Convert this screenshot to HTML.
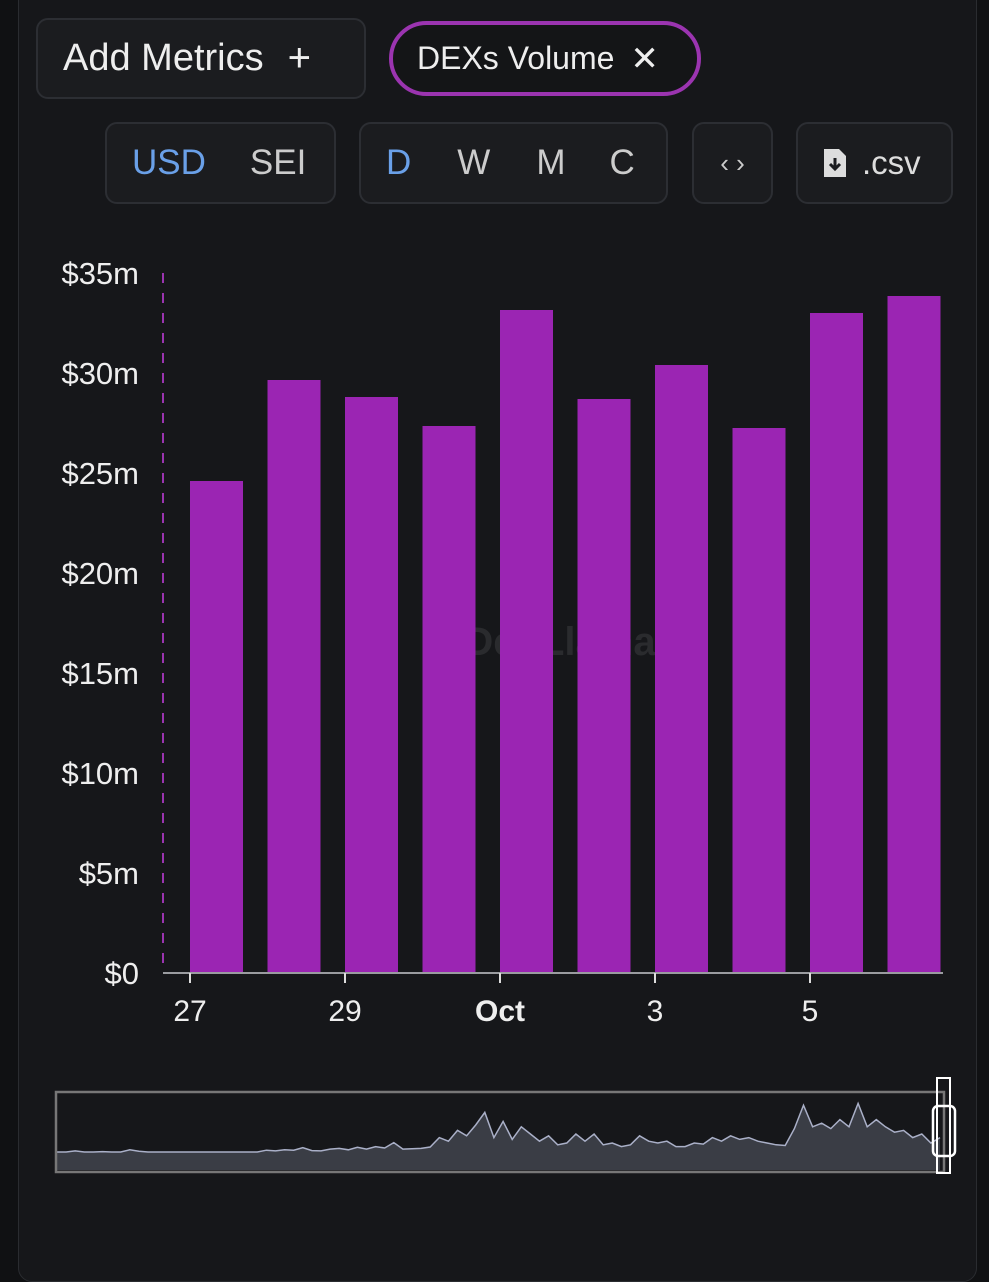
<!DOCTYPE html>
<html><head><meta charset="utf-8"><style>
body{margin:0;background:#101113;width:989px;height:1200px;overflow:hidden;font-family:"Liberation Sans",sans-serif;}
.panel{position:absolute;left:18px;top:-20px;width:957px;height:1300px;background:#16171a;border:1px solid #2a2c30;border-radius:14px;}
.btn{position:absolute;border:2px solid #2c2e33;border-radius:12px;background:#1b1c1f;color:#eee;box-sizing:border-box;display:flex;align-items:center;}
</style></head><body>
<div class="panel"></div>
<div class="btn" style="left:36px;top:18px;width:330px;height:81px;font-size:38px;padding-left:25px;">Add Metrics<span style="margin-left:24px;font-size:40px">+</span></div>
<div class="btn" style="left:389px;top:21px;width:312px;height:75px;border:4px solid #9b34b0;border-radius:38px;background:#141517;font-size:32px;padding-left:24px;">DEXs Volume<span style="margin-left:16px;font-size:34px">✕</span></div>
<div class="btn" style="left:105px;top:122px;width:231px;height:82px;font-size:35px;">
<span style="margin-left:25px;color:#6aa0e8">USD</span><span style="margin-left:44px;color:#ccc">SEI</span></div>
<div class="btn" style="left:359px;top:122px;width:309px;height:82px;font-size:35px;color:#ccc;">
<span style="margin-left:25px;color:#6aa0e8">D</span><span style="margin-left:46px">W</span><span style="margin-left:46px">M</span><span style="margin-left:44px">C</span></div>
<div class="btn" style="left:692px;top:122px;width:81px;height:82px;justify-content:center;font-size:26px;color:#ccc;">‹ ›</div>
<div class="btn" style="left:796px;top:122px;width:157px;height:82px;font-size:33px;color:#ddd;padding-left:24px;">
<svg width="26" height="32" viewBox="0 0 26 32"><path d="M2 2h15l7 7v21H2z" fill="#ddd"/><path d="M13 11v11M8 17l5 5 5-5" stroke="#1b1c1f" stroke-width="3" fill="none"/></svg><span style="margin-left:14px">.csv</span></div>
<svg id="chart" width="989" height="1200" style="position:absolute;left:0;top:0"></svg>
<script>
const categories=["27","28","29","30","Oct","2","3","4","5","6"];
const volumes=[24.6,29.65,28.8,27.35,33.15,28.7,30.4,27.25,33.0,33.85];
const yTicks=[0,5,10,15,20,25,30,35];
const xTickLabels=["27","29","Oct","3","5"];
const xTickIdx=[0,2,4,6,8];
const overview=[5,5,5.3,5,5,5.1,5,5,5.6,5.2,5,5,5,5,5,5,5,5,5,5,5,5,5,5.5,5.3,5.6,5.5,6.2,5.4,5.3,5.8,6,5.6,6.3,5.8,6.5,6.1,7.6,5.8,5.9,6,6.4,9,8,11,9.5,12.5,16,9,13.5,8.5,12,10,8,9.5,7,7.5,10,8,10,7,7.5,6.5,7,9.5,8,7.5,8,6.5,6.5,7.5,7.2,9,8,9.5,8.5,9,8,7.5,7,6.8,11.5,18,12,13,11.5,14,12,18.5,12,14,12,10.5,11,9,10,7.5,9];
const ns="http://www.w3.org/2000/svg";
const svg=document.getElementById('chart');
const y0=973,pxPer=20,x0=190,step=77.5,bw=53;
function yS(v){return y0-v*pxPer;}
function xS(i){return x0+i*step;}
function mk(t,a){const e=document.createElementNS(ns,t);for(const k in a)e.setAttribute(k,a[k]);svg.appendChild(e);return e;}
let w=mk('text',{x:560,y:655,'font-size':40,'font-weight':'bold',fill:'#2a2b2e','text-anchor':'middle','font-family':'Liberation Sans'});


w.textContent='DefiLlama';
yTicks.forEach(v=>{
 const t=mk('text',{x:139,y:yS(v)+11,'font-size':31,fill:'#eee','text-anchor':'end','font-family':'Liberation Sans'});
 
 
 t.textContent='$'+v+(v?'m':'');
});
let dl=mk('line',{x1:163,x2:163,y1:yS(35),y2:y0,stroke:'#9b34b0','stroke-width':2,'stroke-dasharray':'10 10'});


volumes.forEach((v,i)=>{
 const r=mk('rect',{x:xS(i),y:yS(v),width:bw,height:v*pxPer,fill:'#9b25b3'});
 
 
});
let ax=mk('line',{x1:163,x2:943,y1:y0,y2:y0,stroke:'#9a9ca0','stroke-width':2});


xTickIdx.forEach((ci,k)=>{
 const l=mk('line',{x1:xS(ci),x2:xS(ci),y1:y0,y2:y0+10,stroke:'#ddd','stroke-width':2});
 
 
 const t=mk('text',{x:xS(ci),y:1021,'font-size':30,fill:'#eee','text-anchor':'middle','font-family':'Liberation Sans','font-weight':xTickLabels[k]=='Oct'?'bold':'normal'});
 
 
 t.textContent=xTickLabels[k];
});
const ox0=57,ox1=940,oyB=1170,oPer=3.6;
let pts=overview.map((v,i)=>[ox0+i*(ox1-ox0)/(overview.length-1),oyB-v*oPer]);
let d='M'+ox0+','+oyB+' '+pts.map(p=>'L'+p[0].toFixed(1)+','+p[1].toFixed(1)).join(' ')+' L'+ox1+','+oyB+'Z';
let ar=mk('path',{d:d,fill:'#3a3d45',stroke:'none'});


let ln=mk('path',{d:'M'+pts.map(p=>p[0].toFixed(1)+','+p[1].toFixed(1)).join(' L'),fill:'none',stroke:'#aab0c8','stroke-width':1.5});


let ob=mk('rect',{x:56,y:1092,width:888,height:80,fill:'none',stroke:'#777','stroke-width':2.5});


let h1=mk('rect',{x:933,y:1106,width:22,height:50,rx:5,fill:'none',stroke:'#fff','stroke-width':2.5});


let h2=mk('rect',{x:937,y:1078,width:13,height:95,fill:'none',stroke:'#fff','stroke-width':2});


</script>
</body></html>
